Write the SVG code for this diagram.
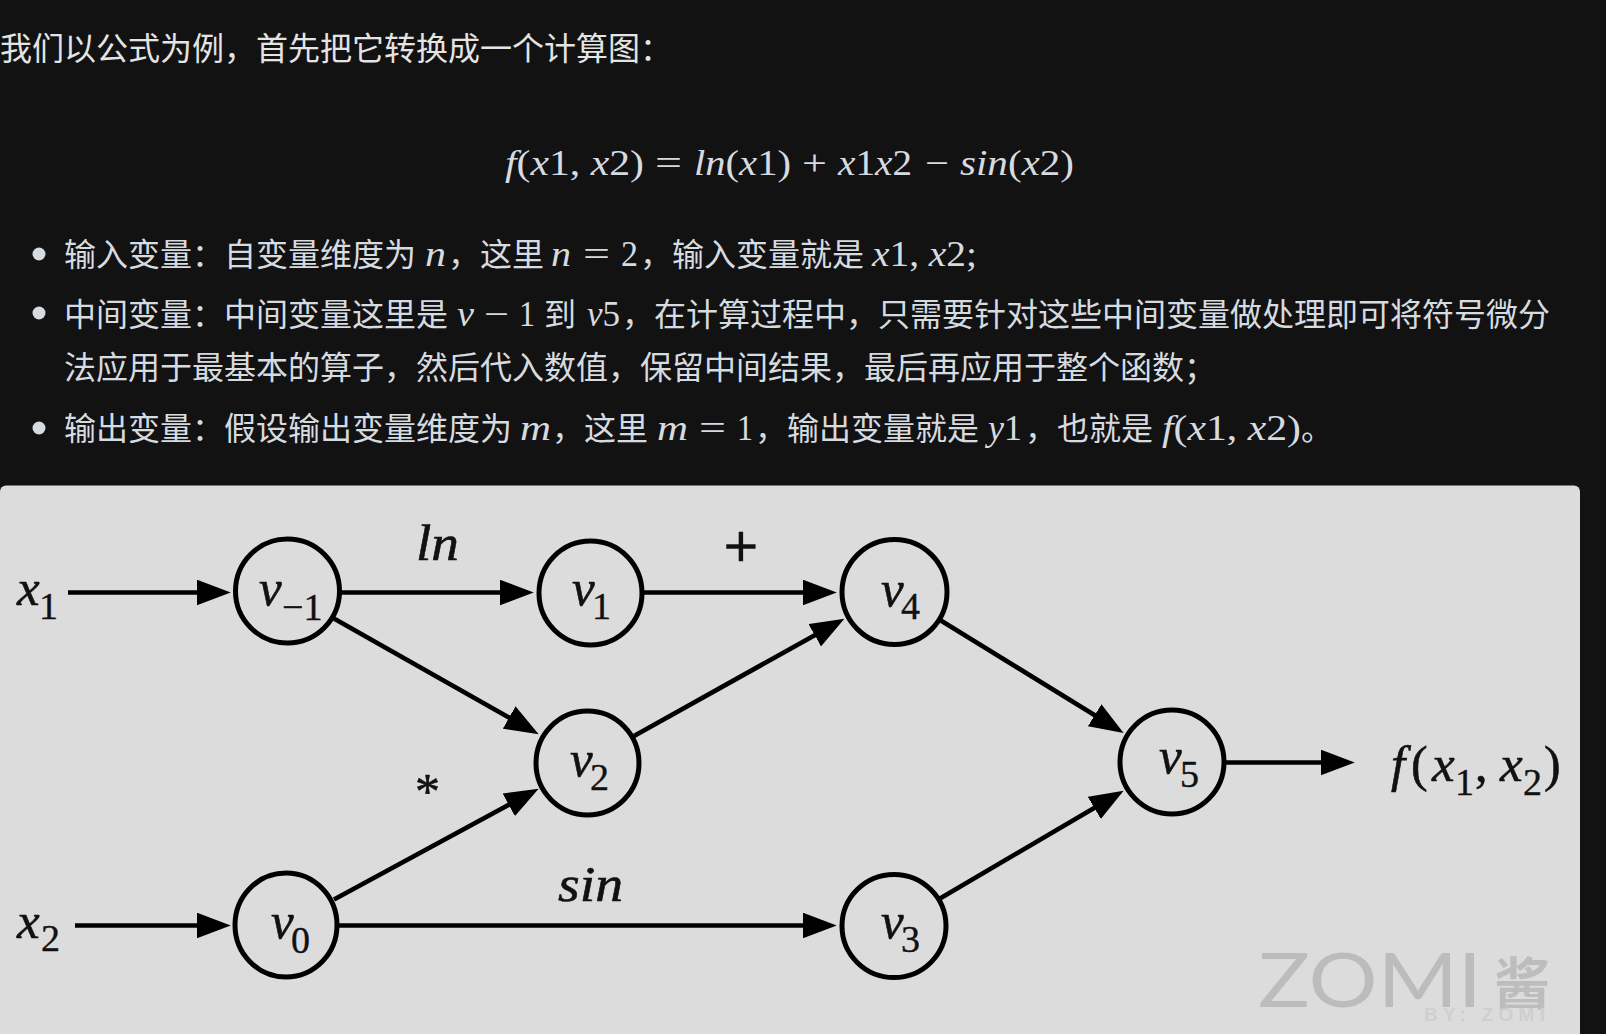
<svg xmlns="http://www.w3.org/2000/svg" width="1606" height="1034" viewBox="0 0 1606 1034">
<style>
.t{font-family:"Noto Sans CJK SC","Noto Sans",sans-serif;font-size:32px;fill:#d6dbe0}
.h{fill:#e4e4e4}
.m{font-family:"Liberation Serif","Times New Roman",serif;font-size:35px;fill:#d6dbe0}
.i{font-style:italic}
.d{fill:#d6dbe0}
.n{fill:none;stroke:#000;stroke-width:5}
.c line{stroke:#000;stroke-width:4.6;marker-end:url(#a)}
.l{font-family:"Liberation Serif","Times New Roman",serif;font-size:51px;font-style:italic;fill:#111;stroke:#111;stroke-width:.6}
.s{font-size:38px;font-style:normal;stroke-width:.4}
.u{font-family:"Liberation Serif","Times New Roman",serif;font-size:50px;fill:#111;stroke:#111;stroke-width:.6}
.n0{font-style:normal;font-size:50px}
.p{font-size:60px;stroke-width:1.4}
.w{font-family:"Lato","Noto Sans",sans-serif;font-weight:400;font-size:76px;fill:#bcbcbc}
.wc{font-family:"Noto Sans CJK SC",sans-serif;font-weight:700;font-size:56px;fill:#bdbdbd}
.wb{font-family:"Liberation Sans",sans-serif;font-weight:700;font-size:19px;fill:#cfcfcf}
</style>
<defs>
<marker id="a" markerUnits="userSpaceOnUse" markerWidth="34" markerHeight="26" viewBox="0 0 33 25" refX="8" refY="12.5" orient="auto"><path d="M0,0L33,12.5L0,25Z" fill="#000"/></marker>
</defs>
<rect width="1606" height="1034" fill="#121212"/>

<g id="prose">
<text class="t h" x="0" y="60">我们以公式为例&#xFF0C;首先把它转换成一个计算图&#xFF1A;</text>
<text class="m h" x="505" y="175" textLength="139" lengthAdjust="spacingAndGlyphs"><tspan class="i">f</tspan>(<tspan class="i">x</tspan>1, <tspan class="i">x</tspan>2)</text>
<text class="m h" x="655" y="175" textLength="27" lengthAdjust="spacingAndGlyphs">=</text>
<text class="m h" x="694" y="175" textLength="97" lengthAdjust="spacingAndGlyphs"><tspan class="i">ln</tspan>(<tspan class="i">x</tspan>1)</text>
<text class="m h" x="802" y="175" textLength="25" lengthAdjust="spacingAndGlyphs">+</text>
<text class="m h" x="838" y="175" textLength="74" lengthAdjust="spacingAndGlyphs"><tspan class="i">x</tspan>1<tspan class="i">x</tspan>2</text>
<text class="m h" x="925" y="175" textLength="24" lengthAdjust="spacingAndGlyphs">−</text>
<text class="m h" x="960" y="175" textLength="114" lengthAdjust="spacingAndGlyphs"><tspan class="i">sin</tspan>(<tspan class="i">x</tspan>2)</text>

<circle class="d" cx="39" cy="254" r="6.5"/>
<text class="t" x="64" y="266">输入变量&#xFF1A;自变量维度为</text>
<text class="m i" x="425" y="266" textLength="21" lengthAdjust="spacingAndGlyphs">n</text>
<text class="t" x="448" y="266">&#xFF0C;这里</text>
<text class="m i" x="551" y="266" textLength="20" lengthAdjust="spacingAndGlyphs">n</text>
<text class="m" x="583" y="266" textLength="27" lengthAdjust="spacingAndGlyphs">=</text>
<text class="m" x="621" y="266" textLength="17" lengthAdjust="spacingAndGlyphs">2</text>
<text class="t" x="640" y="266">&#xFF0C;输入变量就是</text>
<text class="m" x="872" y="266" textLength="105" lengthAdjust="spacingAndGlyphs"><tspan class="i">x</tspan>1, <tspan class="i">x</tspan>2;</text>

<circle class="d" cx="39" cy="313" r="6.5"/>
<text class="t" x="64" y="326">中间变量&#xFF1A;中间变量这里是</text>
<text class="m i" x="457" y="326" textLength="17" lengthAdjust="spacingAndGlyphs">v</text>
<text class="m" x="484" y="326" textLength="25" lengthAdjust="spacingAndGlyphs">−</text>
<text class="m" x="519" y="326" textLength="16" lengthAdjust="spacingAndGlyphs">1</text>
<text class="t" x="544" y="326">到</text>
<text class="m" x="587" y="326" textLength="33" lengthAdjust="spacingAndGlyphs"><tspan class="i">v</tspan>5</text>
<text class="t" x="622" y="326">&#xFF0C;在计算过程中&#xFF0C;只需要针对这些中间变量做处理即可将符号微分</text>
<text class="t" x="64" y="379">法应用于最基本的算子&#xFF0C;然后代入数值&#xFF0C;保留中间结果&#xFF0C;最后再应用于整个函数&#xFF1B;</text>

<circle class="d" cx="39" cy="428" r="6.5"/>
<text class="t" x="64" y="440">输出变量&#xFF1A;假设输出变量维度为</text>
<text class="m i" x="520" y="440" textLength="31" lengthAdjust="spacingAndGlyphs">m</text>
<text class="t" x="552" y="440">&#xFF0C;这里</text>
<text class="m i" x="657" y="440" textLength="31" lengthAdjust="spacingAndGlyphs">m</text>
<text class="m" x="699" y="440" textLength="27" lengthAdjust="spacingAndGlyphs">=</text>
<text class="m" x="737" y="440" textLength="16" lengthAdjust="spacingAndGlyphs">1</text>
<text class="t" x="755" y="440">&#xFF0C;输出变量就是</text>
<text class="m" x="988" y="440" textLength="34" lengthAdjust="spacingAndGlyphs"><tspan class="i">y</tspan>1</text>
<text class="t" x="1025" y="440">&#xFF0C;也就是</text>
<text class="m" x="1162" y="440" textLength="139" lengthAdjust="spacingAndGlyphs"><tspan class="i">f</tspan>(<tspan class="i">x</tspan>1, <tspan class="i">x</tspan>2)</text>
<text class="t" x="1301" y="440">。</text>
</g>

<rect id="panel" x="0" y="485.500" width="1580" height="560" rx="6" fill="#dcdcdc"/>

<g id="connectors" class="c">
<line x1="68" y1="592.500" x2="205" y2="592.500"/>
<line x1="341" y1="592.500" x2="508" y2="592.500"/>
<line x1="643" y1="592.500" x2="811" y2="592.500"/>
<line x1="333" y1="618" x2="516.3" y2="721.6"/>
<line x1="334" y1="899.4" x2="516" y2="800.9"/>
<line x1="634" y1="736" x2="821.9" y2="631.2"/>
<line x1="75" y1="925.500" x2="205" y2="925.500"/>
<line x1="338" y1="925.500" x2="811" y2="925.500"/>
<line x1="940" y1="620" x2="1101.7" y2="719.5"/>
<line x1="940" y1="898.5" x2="1101.4" y2="803.7"/>
<line x1="1226" y1="762.500" x2="1329" y2="762.500"/>
</g>

<g id="x1"><text class="l" x="17" y="605">x<tspan class="s" x="39" dy="14">1</tspan></text></g>
<g id="x2"><text class="l" x="17" y="938">x<tspan class="s" x="41" dy="13">2</tspan></text></g>
<g id="vm1"><ellipse class="n" cx="287.500" cy="591" rx="52" ry="52"/><text class="l" x="259" y="605">v<tspan class="s" x="282" dy="15">−1</tspan></text></g>
<g id="v0"><ellipse class="n" cx="286" cy="925" rx="51" ry="52"/><text class="l" x="271" y="938">v<tspan class="s" x="291" dy="15">0</tspan></text></g>
<g id="v1"><ellipse class="n" cx="590.500" cy="593" rx="51.500" ry="52"/><text class="l" x="572" y="605">v<tspan class="s" x="592" dy="14">1</tspan></text></g>
<g id="v2"><ellipse class="n" cx="587.500" cy="763" rx="51.500" ry="52"/><text class="l" x="570" y="776">v<tspan class="s" x="590" dy="14">2</tspan></text></g>
<g id="v3"><ellipse class="n" cx="894" cy="926" rx="52" ry="51.500"/><text class="l" x="881" y="938">v<tspan class="s" x="901" dy="14">3</tspan></text></g>
<g id="v4"><ellipse class="n" cx="894.500" cy="592" rx="52.500" ry="52.500"/><text class="l" x="881" y="606">v<tspan class="s" x="901" dy="13">4</tspan></text></g>
<g id="v5"><ellipse class="n" cx="1172" cy="762" rx="52" ry="52"/><text class="l" x="1159" y="773">v<tspan class="s" x="1180" dy="14">5</tspan></text></g>

<g id="edge-labels">
<text class="l" x="416" y="560" textLength="43" lengthAdjust="spacingAndGlyphs">ln</text>
<text class="u p" x="724" y="566">+</text>
<text class="u" x="415" y="808">*</text>
<text class="l" x="558" y="901" textLength="65" lengthAdjust="spacingAndGlyphs">sin</text>
</g>

<g id="output"><text class="l" x="1391" y="781">f<tspan class="n0" x="1411">(</tspan><tspan x="1432">x</tspan><tspan class="s" x="1455" dy="14">1</tspan><tspan class="n0" x="1475" dy="-14">,</tspan><tspan x="1500">x</tspan><tspan class="s" x="1523" dy="14">2</tspan><tspan class="n0" x="1544" dy="-14">)</tspan></text></g>

<g id="watermark">
<text class="w" x="1258" y="1007" textLength="224" lengthAdjust="spacingAndGlyphs">ZOMI</text>
<text class="wc" x="1494" y="1004">酱</text>
<text class="wb" x="1424" y="1021" textLength="121" lengthAdjust="spacing">BY: ZOMI</text>
</g>
</svg>
